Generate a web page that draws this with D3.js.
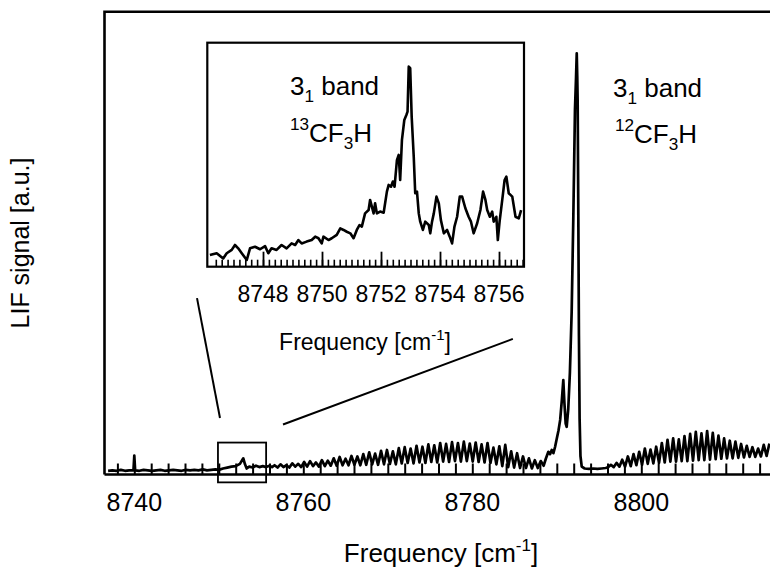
<!DOCTYPE html>
<html><head><meta charset="utf-8">
<script src="https://cdn.jsdelivr.net/npm/d3@7"></script>
<style>
body{margin:0;background:#fff}
svg{display:block}
text{font-family:"Liberation Sans",Arial,Helvetica,sans-serif;fill:#000}
</style>
</head><body>
<svg id="c" width="770" height="571"></svg>
<script>
// ---------- DATA ----------
const tickLabels = [8740, 8760, 8780, 8800];
const insetTickLabels = [8748, 8750, 8752, 8754, 8756];

// baseline region + small 13C feature
const lowFreq = [8736.9,8737.4,8737.9,8738.4,8738.9,8739.4,8739.9,8740.0,8740.1,8740.6,8741.1,8741.6,8742.1,8742.6,8743.1,8743.6,8744.1,8744.6,8745.1,8745.6,8746.1,8746.6,8747.1,8747.6,8748.1,8748.6,8749.1,8749.6,8750.0,8750.5,8751.0,8751.5,8752.0,8752.5,8752.9,8753.1,8753.3,8753.6,8754.0,8754.4,8754.8,8755.2,8755.6,8756.0,8756.3];
const lowLIF  = [0.8,0.9,0.8,1.0,0.8,0.9,0.9,4.1,0.9,0.8,1.0,0.9,0.8,0.9,1.0,0.8,0.9,1.0,0.9,0.8,1.0,0.9,1.0,0.9,1.1,0.9,1.0,1.1,1.0,1.3,1.5,1.7,1.8,2.3,3.5,2.2,1.3,1.7,1.5,1.9,1.6,1.8,1.6,1.9,1.6];

// P-branch-like rotational comb (peak, trough alternating)
const combAFreq = [8756.6,8756.95,8757.3,8757.65,8758.0,8758.35,8758.7,8759.05,8759.4,8759.75,8760.1,8760.45,8760.8,8761.15,8761.5,8761.85,8762.2,8762.55,8762.9,8763.25,8763.6,8763.95,8764.3,8764.65,8765.0,8765.35,8765.7,8766.05,8766.4,8766.75,8767.1,8767.45,8767.8,8768.15,8768.5,8768.85,8769.2,8769.55,8769.9,8770.25,8770.6,8770.95,8771.3,8771.65,8772.0,8772.35,8772.7,8773.05,8773.4,8773.75,8774.1,8774.45,8774.8,8775.15,8775.5,8775.85,8776.2,8776.55,8776.9,8777.25,8777.6,8777.95,8778.3,8778.65,8779.0,8779.35,8779.7,8780.05,8780.4,8780.75,8781.1,8781.45,8781.8,8782.15,8782.5,8782.85,8783.2,8783.55,8783.9,8784.25,8784.6,8784.95,8785.3,8785.65,8786.0,8786.35,8786.7,8787.05,8787.4,8787.75,8788.1,8788.45];
const combALIF  = [2.0,1.5,2.2,1.6,2.0,1.5,2.4,1.7,2.3,1.6,2.7,1.7,2.9,1.8,2.6,1.7,3.1,1.8,3.0,1.9,3.5,1.9,3.8,2.0,3.4,2.0,4.0,2.1,3.9,2.0,4.4,2.1,4.8,2.2,4.5,2.1,5.1,2.2,5.3,2.3,5.0,2.2,5.7,2.4,5.9,2.5,5.6,2.4,6.2,2.6,6.0,2.5,6.5,2.7,6.3,2.6,6.8,2.8,6.6,2.7,7.0,2.9,6.8,2.8,7.1,2.9,6.7,2.8,6.9,2.7,6.5,2.6,6.8,2.5,5.8,2.2,6.1,1.8,6.4,1.6,5.0,1.5,4.6,1.4,3.9,1.4,3.5,1.3,3.1,1.4,2.9,1.9];

// Q-branch of the 3_1 band of 12CF3H
const bandFreq = [8788.7,8789.0,8789.2,8789.4,8789.6,8789.8,8790.0,8790.2,8790.4,8790.6,8790.77,8790.9,8791.05,8791.17,8791.35,8791.55,8791.76,8791.95,8792.15,8792.28,8792.36,8792.42,8792.47,8792.55,8792.62,8792.7,8792.8,8792.95,8793.3,8793.8,8794.3,8794.8,8795.3,8795.8,8796.1];
const bandLIF  = [3.4,4.9,4.4,5.3,4.6,6.0,7.8,9.5,11.8,16.1,20.4,15.5,11.0,10.3,14.0,22.0,35.2,55.0,78.8,86.0,91.0,86.0,80.3,55.0,30.0,12.0,4.0,1.7,1.3,1.2,1.3,1.2,1.3,1.4,1.6];

// R-branch-like comb
const combBFreq = [8796.4,8796.74,8797.07,8797.41,8797.74,8798.08,8798.41,8798.75,8799.08,8799.42,8799.75,8800.09,8800.42,8800.76,8801.09,8801.43,8801.76,8802.1,8802.43,8802.77,8803.1,8803.44,8803.77,8804.11,8804.44,8804.78,8805.11,8805.45,8805.78,8806.12,8806.45,8806.79,8807.12,8807.46,8807.79,8808.13,8808.46,8808.8,8809.13,8809.47,8809.8,8810.14,8810.47,8810.81,8811.14,8811.48,8811.81,8812.15,8812.48,8812.82,8813.15,8813.49,8813.82,8814.16,8814.49,8814.83,8815.16];
const combBLIF  = [2.1,1.6,2.5,1.7,3.2,1.7,3.9,1.8,4.4,2.0,4.9,2.1,5.6,2.3,5.4,2.4,6.0,2.5,6.8,2.6,7.5,2.8,7.8,2.8,7.6,2.9,8.3,2.9,8.8,3.0,9.2,3.1,8.9,3.1,9.4,3.2,9.0,3.3,8.4,3.4,7.8,3.5,7.3,3.5,7.1,3.6,6.6,3.7,6.2,3.8,5.9,3.8,5.6,3.9,6.4,4.0,6.7];

// inset: 3_1 band of 13CF3H
const insetFreq = [8746.20,8746.43,8746.65,8746.77,8746.94,8747.05,8747.16,8747.28,8747.45,8747.56,8747.73,8747.90,8748.07,8748.18,8748.29,8748.46,8748.63,8748.80,8748.97,8749.09,8749.20,8749.31,8749.48,8749.65,8749.77,8749.88,8749.99,8750.05,8750.22,8750.33,8750.50,8750.62,8750.73,8750.84,8750.96,8751.07,8751.18,8751.27,8751.35,8751.46,8751.58,8751.63,8751.69,8751.75,8751.80,8751.86,8751.97,8752.09,8752.20,8752.26,8752.34,8752.40,8752.46,8752.54,8752.60,8752.65,8752.71,8752.79,8752.86,8752.90,8752.94,8752.99,8753.04,8753.11,8753.16,8753.22,8753.28,8753.33,8753.42,8753.50,8753.62,8753.67,8753.73,8753.79,8753.88,8753.96,8754.03,8754.13,8754.24,8754.33,8754.41,8754.49,8754.58,8754.67,8754.75,8754.86,8754.97,8755.05,8755.14,8755.26,8755.37,8755.46,8755.54,8755.60,8755.69,8755.77,8755.82,8755.91,8755.96,8756.02,8756.11,8756.19,8756.25,8756.33,8756.45,8756.56,8756.67,8756.75];
const insetLIF  = [5.2,6.0,3.7,6.0,7.5,9.7,8.2,6.0,3.0,8.2,8.9,7.8,9.2,6.0,8.2,7.5,9.7,8.2,10.4,9.7,11.9,10.4,11.2,11.9,13.4,12.7,10.4,13.4,11.9,12.7,14.2,17.1,16.4,15.6,14.9,12.7,16.4,18.6,17.9,23.8,25.3,29.8,26.8,23.8,28.3,23.8,24.6,24.1,33.5,36.5,35.7,38.0,35.7,47.6,49.9,38.7,56.6,65.5,67.7,69.2,89.3,88.6,67.0,49.1,32.8,33.5,23.8,20.1,16.4,20.1,18.6,14.9,20.1,23.8,31.3,28.3,20.8,14.9,16.4,13.4,10.4,17.9,22.3,31.3,31.3,26.1,22.3,20.1,14.9,19.4,25.3,33.5,29.8,25.3,22.3,24.6,20.1,22.3,11.9,20.1,29.8,38.7,40.2,32.8,31.3,22.3,21.6,25.3];

// zoom region marked on the main spectrum and connector lines (data coordinates)
const zoomBox = {f0: 8749.9, f1: 8755.6, s0: -1.7, s1: 6.9};
const connectors = [
  [[8747.42, 38.1], [8750.14, 12.2]],
  [[8757.6, 10.8], [8784.8, 29.3]]
];

// ---------- CHART ----------
const svg = d3.select("#c");
const L = 104.5, T = 11.7, B = 474.5, R = 770;
const x = d3.scaleLinear().domain([8740, 8800]).range([134.3, 641.3]);
const y = d3.scaleLinear().domain([0, 100]).range([B, T]);

svg.append("clipPath").attr("id","plotclip").append("rect")
  .attr("x", L).attr("y", T).attr("width", R - L + 5).attr("height", B - T + 20);

const mainData = [];
[[lowFreq,lowLIF],[combAFreq,combALIF],[bandFreq,bandLIF],[combBFreq,combBLIF]].forEach(([f,s]) => {
  f.forEach((v,i) => mainData.push([v, s[i]]));
});

const line = d3.line().x(d => x(d[0])).y(d => y(d[1]));

// minor ticks (inward)
const tickG = svg.append("g").attr("transform", `translate(0,${B})`)
  .call(d3.axisBottom(x).tickValues(d3.range(8738, 8816, 2)).tickSize(-11).tickFormat(""));
tickG.select(".domain").remove();
tickG.selectAll("line").attr("stroke", "#000").attr("stroke-width", 2);

// trace
svg.append("path").datum(mainData)
  .attr("clip-path", "url(#plotclip)")
  .attr("d", line).attr("fill", "none").attr("stroke", "#000")
  .attr("stroke-width", 2.7).attr("stroke-linejoin", "round");

// frame (left, top, bottom)
svg.append("path")
  .attr("d", `M${L},${B}V${T}H${R + 5}M${L},${B}H${R + 5}`)
  .attr("fill", "none").attr("stroke", "#000").attr("stroke-width", 2.6);

// tick labels
svg.append("g").selectAll("text").data(tickLabels).join("text")
  .attr("x", d => x(d)).attr("y", 511).attr("text-anchor", "middle")
  .attr("font-size", 25).text(d => d);

// axis titles
const xt = svg.append("text").attr("x", 441).attr("y", 562).attr("text-anchor", "middle").attr("font-size", 26);
xt.append("tspan").text("Frequency [cm");
xt.append("tspan").attr("font-size", 17).attr("dy", -11).text("-1");
xt.append("tspan").attr("dy", 11).text("]");

svg.append("text").attr("transform", "translate(29,243) rotate(-90)")
  .attr("text-anchor", "middle").attr("font-size", 25).text("LIF signal [a.u.]");

// zoom box & connectors
svg.append("rect")
  .attr("x", x(zoomBox.f0)).attr("y", y(zoomBox.s1))
  .attr("width", x(zoomBox.f1) - x(zoomBox.f0)).attr("height", y(zoomBox.s0) - y(zoomBox.s1))
  .attr("fill", "none").attr("stroke", "#000").attr("stroke-width", 1.8);
svg.append("g").selectAll("line").data(connectors).join("line")
  .attr("x1", d => x(d[0][0])).attr("y1", d => y(d[0][1]))
  .attr("x2", d => x(d[1][0])).attr("y2", d => y(d[1][1]))
  .attr("stroke", "#000").attr("stroke-width", 2);

// annotations with sub/superscripts
function label(g, xx, yy, parts, fs) {
  const t = g.append("text").attr("x", xx).attr("y", yy).attr("font-size", fs);
  let shift = 0;
  parts.forEach(p => {
    const target = p.sub ? 7 : p.sup ? -12 : 0;
    t.append("tspan").attr("dy", target - shift)
      .attr("font-size", (p.sub || p.sup) ? fs * 0.66 : fs).text(p.t);
    shift = target;
  });
}
label(svg, 613, 97, [{t:"3"},{t:"1",sub:1},{t:" band"}], 26);
label(svg, 615, 143, [{t:"12",sup:1},{t:"CF"},{t:"3",sub:1},{t:"H"}], 26);

// ---------- INSET ----------
const IL = 207.3, IR = 524, IT = 42.7, IB = 266.7;
const xi = d3.scaleLinear().domain([8748, 8756]).range([263, 499]);
const yi = d3.scaleLinear().domain([0, 100]).range([IB, IT]);
const inset = svg.append("g");
inset.append("rect").attr("x", IL).attr("y", IT).attr("width", IR - IL).attr("height", IB - IT)
  .attr("fill", "#fff");
svg.append("clipPath").attr("id","insetclip").append("rect")
  .attr("x", IL).attr("y", IT).attr("width", IR - IL).attr("height", IB - IT);

const iMinor = inset.append("g").attr("transform", `translate(0,${IB})`)
  .call(d3.axisBottom(xi).tickValues(d3.range(8746.4, 8756.9, 0.2)).tickSize(-7).tickFormat(""));
iMinor.select(".domain").remove();
iMinor.selectAll("line").attr("stroke", "#000").attr("stroke-width", 1.6);
const iMajor = inset.append("g").attr("transform", `translate(0,${IB})`)
  .call(d3.axisBottom(xi).tickValues(insetTickLabels).tickSize(-15).tickFormat(""));
iMajor.select(".domain").remove();
iMajor.selectAll("line").attr("stroke", "#000").attr("stroke-width", 1.8);

inset.append("path").datum(insetFreq.map((f,i) => [f, insetLIF[i]]))
  .attr("clip-path", "url(#insetclip)")
  .attr("d", d3.line().x(d => xi(d[0])).y(d => yi(d[1])))
  .attr("fill", "none").attr("stroke", "#000").attr("stroke-width", 2.6).attr("stroke-linejoin", "round");

inset.append("rect").attr("x", IL).attr("y", IT).attr("width", IR - IL).attr("height", IB - IT)
  .attr("fill", "none").attr("stroke", "#000").attr("stroke-width", 2.2);

inset.append("g").selectAll("text").data(insetTickLabels).join("text")
  .attr("x", d => xi(d)).attr("y", 301.5).attr("text-anchor", "middle")
  .attr("font-size", 23).text(d => d);

const it = inset.append("text").attr("x", 365).attr("y", 350).attr("text-anchor", "middle").attr("font-size", 23);
it.append("tspan").text("Frequency [cm");
it.append("tspan").attr("font-size", 15).attr("dy", -10).text("-1");
it.append("tspan").attr("dy", 10).text("]");

label(inset, 290, 95, [{t:"3"},{t:"1",sub:1},{t:" band"}], 26);
label(inset, 290, 142, [{t:"13",sup:1},{t:"CF"},{t:"3",sub:1},{t:"H"}], 26);
</script>
</body></html>
